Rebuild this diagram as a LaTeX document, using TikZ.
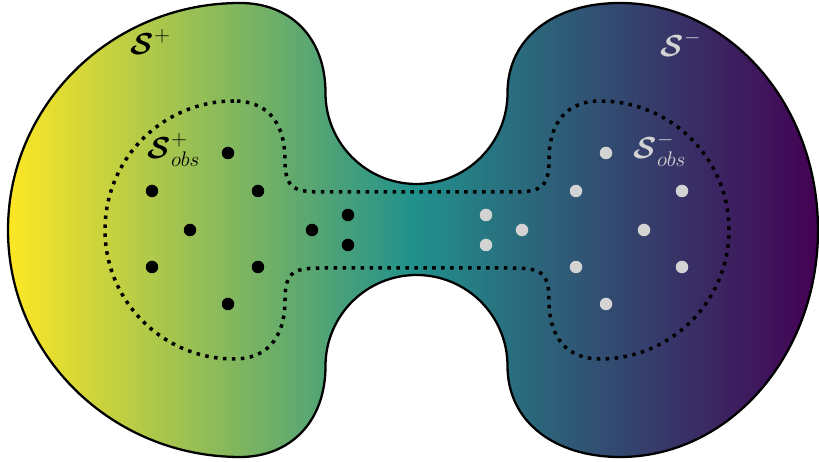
\documentclass[tikz,border=0pt]{standalone}
\usepackage{amsmath}
\usepackage{tikz}

\definecolor{vyellow}{HTML}{FDE725}
\definecolor{vteal}{HTML}{21918C}
\definecolor{vpurple}{HTML}{440154}
\definecolor{dotgray}{RGB}{211,211,211}

\begin{document}
\begin{tikzpicture}[
        x=0.02cm, y=0.02cm,
        region/.style={
            % The border
            line width = 1.3pt,
            draw = black,
            % The shading (middle last, else it is reset)
            left color = vyellow,
            right color = vpurple,
            middle color = vteal
        },
        observed/.style={
            % The border
            line width = 2pt,
            draw = black,
            dash pattern = on 2pt off 3.1pt
        },
        plus/.style={
            % The shape
            circle,
            inner sep = 0pt,
            minimum size = 0.25cm,
            % The color
            fill = black
        },
        minus/.style={
            % The shape
            circle,
            inner sep = 0pt,
            minimum size = 0.25cm,
            % The color
            fill = dotgray
        },
        setlabel/.style={
            % Font
            font = \LARGE,
            inner sep = 0pt
        },
    ]
        \useasboundingbox (0,0) rectangle (819,462);

        % the whole set
        \path[region] (325.5,369) arc[start angle=180, end angle=360, radius=91]
            .. controls (507.5,425) and (555,459) .. (620,459)
            arc[start angle=90, end angle=-90, x radius=198, y radius=227]
            .. controls (555,5) and (507.5,40) .. (507.5,96)
            arc[start angle=0, end angle=180, radius=91]
            .. controls (325.5,40) and (290,5) .. (240,5)
            arc[start angle=270, end angle=90, x radius=232, y radius=227]
            .. controls (290,459) and (325.5,425) .. (325.5,369) -- cycle;

        % the observed part
        \path[observed] (234,361) arc[start angle=90, end angle=270, radius=129]
            .. controls (265,103) and (285,122) .. (285,162)
            .. controls (285,192) and (295,194) .. (325,194)
            -- (509,194)
            .. controls (539,194) and (549,192) .. (549,162)
            .. controls (549,122) and (569,103) .. (600,103)
            arc[start angle=-90, end angle=90, radius=129]
            .. controls (569,361) and (549,342) .. (549,302)
            .. controls (549,272) and (539,270) .. (509,270)
            -- (325,270)
            .. controls (295,270) and (285,272) .. (285,302)
            .. controls (285,342) and (265,361) .. (234,361) -- cycle;

        \node (sPlus) [setlabel] at (151,420) {$\boldsymbol{\mathcal{S}}^{+}$};
        \node (sMinus) [setlabel,text=dotgray] at (681,418) {$\boldsymbol{\mathcal{S}}^{-}$};
        \node (sPlusObs) [setlabel] at (174,312) {$\boldsymbol{\mathcal{S}}^{+}_{obs}$};
        \node (sMinusObs) [setlabel,text=dotgray] at (660,312) {$\boldsymbol{\mathcal{S}}^{-}_{obs}$};

        % positive samples
        \node (p1) [plus] at (228,309) {};
        \node (p2) [plus] at (152,271) {};
        \node (p3) [plus] at (258,271) {};
        \node (p4) [plus] at (190,232) {};
        \node (p5) [plus] at (152,195) {};
        \node (p6) [plus] at (258,195) {};
        \node (p7) [plus] at (228,158) {};
        \node (p8) [plus] at (312,232) {};
        \node (p9) [plus] at (348,247) {};
        \node (p10) [plus] at (348,217) {};

        % negative samples
        \node (m1) [minus] at (606,309) {};
        \node (m2) [minus] at (682,271) {};
        \node (m3) [minus] at (576,271) {};
        \node (m4) [minus] at (644,232) {};
        \node (m5) [minus] at (682,195) {};
        \node (m6) [minus] at (576,195) {};
        \node (m7) [minus] at (606,158) {};
        \node (m8) [minus] at (522,232) {};
        \node (m9) [minus] at (486,247) {};
        \node (m10) [minus] at (486,217) {};

    \end{tikzpicture}
\end{document}
